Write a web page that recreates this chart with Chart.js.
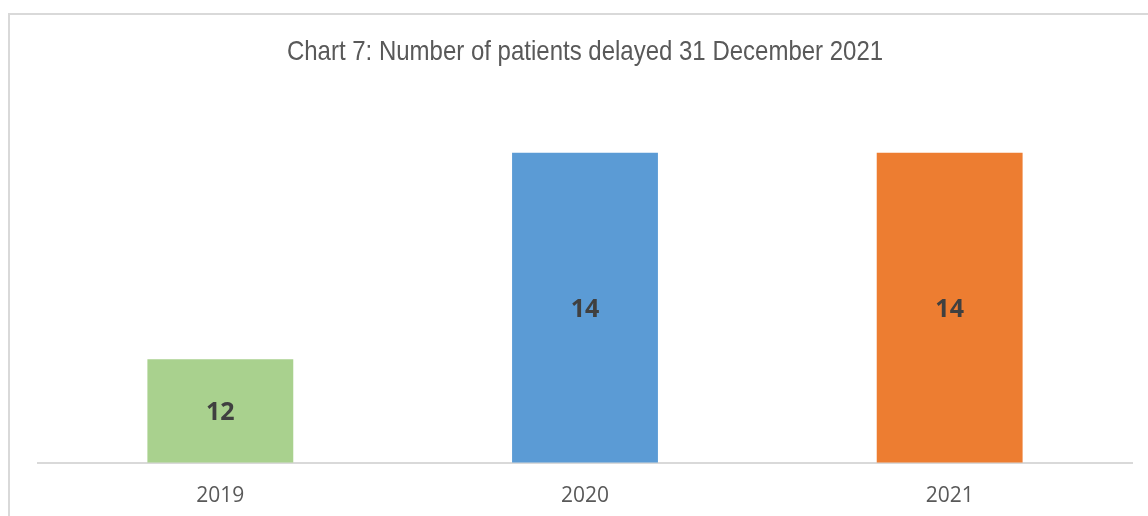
<!DOCTYPE html>
<html>
<head>
<meta charset="utf-8">
<script src="https://cdn.jsdelivr.net/npm/chart.js@4.4.0/dist/chart.umd.min.js"></script>
<style>
  html, body { margin: 0; padding: 0; background: #ffffff; }
  #wrap { width: 1148px; height: 516px; position: relative; }
</style>
</head>
<body>
<div id="wrap"><canvas id="c" width="1148" height="516"></canvas></div>
<script>
const categories = ['2019', '2020', '2021'];
const patientsDelayed = [12, 14, 14];
const barColors = ['#a9d18e', '#5b9bd5', '#ed7d31'];
const titleText = 'Chart 7: Number of patients delayed 31 December 2021';

const frame = {
  id: 'frame',
  beforeDraw(chart) {
    const ctx = chart.ctx;
    ctx.save();
    ctx.fillStyle = '#ffffff';
    ctx.fillRect(0, 0, chart.width, chart.height);
    ctx.strokeStyle = '#d9d9d9';
    ctx.lineWidth = 2;
    ctx.strokeRect(9, 14, chart.width + 20, chart.height + 20);
    // condensed title (narrow face emulated by horizontal scaling)
    ctx.font = '28px "Liberation Sans", Arial, sans-serif';
    ctx.fillStyle = '#595959';
    ctx.textAlign = 'center';
    ctx.textBaseline = 'alphabetic';
    const cx = 585;
    ctx.translate(cx, 60);
    ctx.scale(0.857, 1);
    ctx.fillText(titleText, 0, 0);
    ctx.restore();
  }
};

const valueLabels = {
  id: 'valueLabels',
  afterDraw(chart) {
    const ctx = chart.ctx;
    const meta = chart.getDatasetMeta(0);
    const yScale = chart.scales.y;
    ctx.save();
    ctx.font = 'bold 25px "Open Sans", sans-serif';
    ctx.fillStyle = '#404040';
    ctx.textAlign = 'center';
    ctx.textBaseline = 'middle';
    meta.data.forEach((bar, i) => {
      const p = bar.getProps(['x', 'y', 'base'], true);
      const v = chart.data.datasets[0].data[i];
      const top = yScale.getPixelForValue(v);
      const base = yScale.getPixelForValue(yScale.min);
      const y = (top + base) / 2 + 2;
      ctx.fillText(String(v), p.x, y);
    });
    ctx.restore();
  }
};

new Chart(document.getElementById('c'), {
  type: 'bar',
  data: {
    labels: categories,
    datasets: [{
      data: patientsDelayed,
      backgroundColor: barColors,
      borderWidth: 0,
      categoryPercentage: 1.0,
      barPercentage: 0.4
    }]
  },
  options: {
    responsive: false,
    animation: false,
    devicePixelRatio: 1,
    layout: { padding: { left: 38, right: 16, top: 101, bottom: 0 } },
    plugins: {
      legend: { display: false },
      tooltip: { enabled: false },
      title: { display: false }
    },
    scales: {
      x: {
        grid: { display: false, drawTicks: false },
        border: { display: true, color: '#d9d9d9', width: 2 },
        ticks: {
          color: '#595959',
          font: { family: '"Open Sans"', size: 21 },
          padding: 21
        },
        afterFit(scale) { scale.height = 53.5; }
      },
      y: {
        display: false,
        min: 11,
        max: 14.5
      }
    }
  },
  plugins: [frame, valueLabels]
});
</script>
</body>
</html>
